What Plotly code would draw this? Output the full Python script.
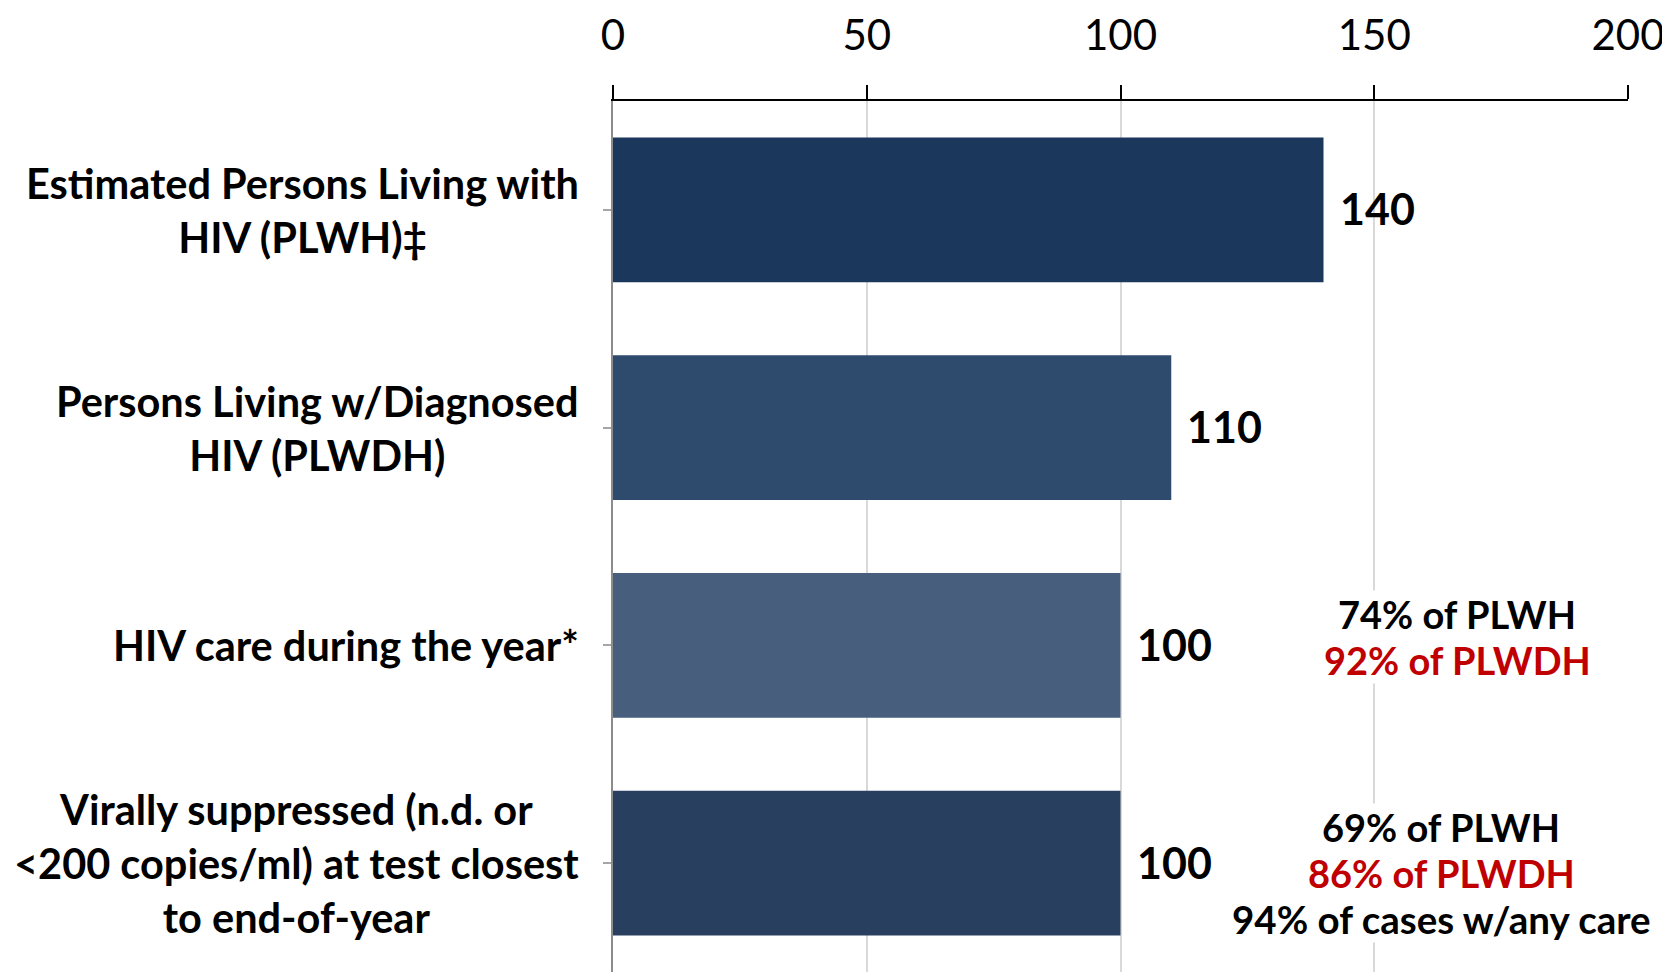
import plotly.graph_objects as go

categories = [
    "Estimated Persons Living with<br>HIV (PLWH)‡",
    "Persons Living w/Diagnosed<br>HIV (PLWDH)",
    "HIV care during the year*",
    "Virally suppressed (n.d. or<br>&lt;200 copies/ml) at test closest<br>to end-of-year",
]
values = [140, 110, 100, 100]
bar_colors = ["#1B375C", "#2E4A6D", "#475F7D", "#283F5F"]
x_ticks = [0, 50, 100, 150, 200]

note_cat_care = ["74% of PLWH", "92% of PLWDH"]
note_colors_care = ["#000000", "#C00000"]
note_cat_vs = ["69% of PLWH", "86% of PLWDH", "94% of cases w/any care"]
note_colors_vs = ["#000000", "#C00000", "#000000"]

FONT = "Lato"
# page body has an 8px margin, so the figure is sized/offset to compensate
OFF = 8
W, H = 1670 - OFF, 973 - OFF
L, T = 613 - OFF, 95 - OFF
R = W - (1628 - OFF)
B = H - (972 - OFF)

ids = list(range(len(categories)))

fig = go.Figure()
fig.add_trace(go.Bar(
    x=values, y=ids, orientation="h",
    marker=dict(color=bar_colors, line=dict(width=0)),
    width=0.665,
    hoverinfo="skip",
))

annotations = []
for i, cat in enumerate(categories):
    annotations.append(dict(
        x=-0.032, xref="paper", y=i, yref="y",
        xanchor="right", yanchor="middle", align="center",
        text="<b>" + cat + "</b>",
        showarrow=False,
        font=dict(family=FONT, size=41.5, color="#000000"),
    ))

for i, v in enumerate(values):
    annotations.append(dict(
        x=v, xref="x", y=i, yref="y",
        xanchor="left", yanchor="middle",
        text="<b>%d</b>" % v, showarrow=False, xshift=14, yshift=1,
        font=dict(family=FONT, size=43, color="#000000"),
    ))

note_h = 46
for j, (t, c) in enumerate(zip(note_cat_care, note_colors_care)):
    annotations.append(dict(
        x=166.4, xref="x", y=2, yref="y", xanchor="center", yanchor="middle",
        text="<b>%s</b>" % t, showarrow=False, yshift=31 - j * note_h,
        bgcolor="#FFFFFF", borderpad=0,
        font=dict(family=FONT, size=38, color=c),
    ))
for j, (t, c) in enumerate(zip(note_cat_vs, note_colors_vs)):
    annotations.append(dict(
        x=163.2, xref="x", y=3, yref="y", xanchor="center", yanchor="middle",
        text="<b>%s</b>" % t, showarrow=False, yshift=36 - j * note_h,
        bgcolor="#FFFFFF", borderpad=0,
        font=dict(family=FONT, size=38.5 if j == 2 else 38, color=c),
    ))

fig.update_layout(
    width=W, height=H,
    margin=dict(l=L, r=R, t=T, b=B, pad=0),
    paper_bgcolor="#FFFFFF", plot_bgcolor="#FFFFFF",
    showlegend=False,
    annotations=annotations,
    xaxis=dict(
        side="top", range=[0, 200], tickvals=x_ticks, ticktext=[str(t) for t in x_ticks],
        showline=True, linecolor="#000000", linewidth=2,
        ticks="outside", ticklen=14, tickwidth=2, tickcolor="#000000",
        ticklabelstandoff=18,
        showgrid=True, gridcolor="#D9D9D9", gridwidth=2,
        zeroline=False,
        tickfont=dict(family=FONT, size=42, color="#000000"),
        fixedrange=True,
    ),
    yaxis=dict(
        range=[3.5, -0.5], tickvals=ids, ticktext=["" for _ in ids],
        showline=True, linecolor="#8C8C8C", linewidth=2,
        ticks="outside", ticklen=8, tickwidth=2, tickcolor="#A6A6A6",
        showgrid=False, zeroline=False,
        fixedrange=True,
    ),
)

fig.write_html("out.html", config={"displayModeBar": False})
